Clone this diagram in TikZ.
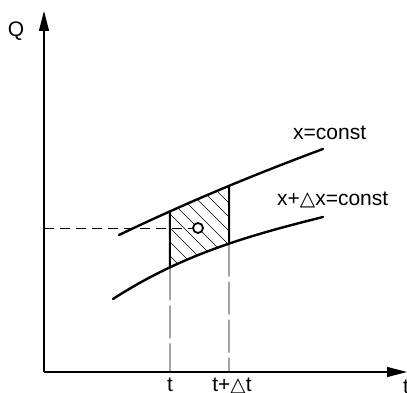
\documentclass[tikz,border=0pt]{standalone}
\usepackage{fontspec}
\setmainfont{Liberation Sans}
\newfontfamily\dv{DejaVu Sans}
\usetikzlibrary{arrows.meta,intersections}
\newcommand{\tri}{{\dv\scalebox{0.95}{△}}}
\begin{document}
\begin{tikzpicture}[x=1pt,y=-1pt,
  axis/.style={line width=1.2pt,-{Triangle[length=20pt,width=10pt]}},
  curve/.style={line width=2.4pt,line cap=round},
  edge/.style={line width=2pt},
  guide/.style={line width=0.9pt,dash pattern=on 33pt off 5pt},
  hguide/.style={line width=0.9pt,dash pattern=on 10pt off 6pt},
  hatch/.style={line width=0.7pt},
  lbl/.style={inner sep=0pt,font=\fontsize{21}{25}\selectfont}]
\useasboundingbox (0,0) rectangle (407,393);
\coordinate (O) at (44,372);
\coordinate (Ytip) at (44,11);
\coordinate (Xtip) at (407,372);
\draw[axis] (O) -- (Ytip);
\draw[axis] (O) -- (Xtip);
\node[lbl,anchor=base] (Q) at (16,37) {Q};
\node[lbl,anchor=base] (tx) at (406,393) {t};
% hatching
\begin{scope}
\clip (170,100) rectangle (229,320);
\clip (119,235) .. controls (187,202.4) and (255,174.2) .. (323,149) -- (323,400) -- (119,400) -- cycle;
\clip (113,299) .. controls (183,253.5) and (253,234.5) .. (323,217) -- (323,0) -- (113,0) -- cycle;
\foreach \k in {-6,...,9} \draw[hatch] (134+14*\k,150) -- ++(160,160);
\end{scope}
% curves
\draw[curve,name path=up] (119,235) .. controls (187,202.4) and (255,174.2) .. (323,149);
\draw[curve,name path=lo] (113,299) .. controls (183,253.5) and (253,234.5) .. (323,217);
\path[name path=v1] (170,100) -- (170,372);
\path[name path=v2] (229,100) -- (229,372);
\path[name intersections={of=up and v1,by=A1}];
\path[name intersections={of=lo and v1,by=B1}];
\path[name intersections={of=up and v2,by=A2}];
\path[name intersections={of=lo and v2,by=B2}];
\coordinate (T1) at (170,372);
\coordinate (T2) at (229,372);
\draw[edge] (A1) -- (B1);
\draw[edge] (A2) -- (B2);
\draw[guide] (B1) -- (T1);
\draw[guide] (B2) -- (T2);
% point
\coordinate (H) at (44,228);
\node[circle,draw,line width=1.8pt,fill=white,minimum size=10pt,inner sep=0pt] (P) at (198,228) {};
\draw[hguide] (H) -- (P.west);
% labels
\node[lbl,anchor=base] (t1) at (170,391) {t};
\node[lbl,anchor=base] (t2) at (232,391) {t+\tri t};
\node[lbl,anchor=base west] (c1) at (293,140) {x=const};
\node[lbl,anchor=base west] (c2) at (277,205) {x+\tri x=const};
\end{tikzpicture}
\end{document}
